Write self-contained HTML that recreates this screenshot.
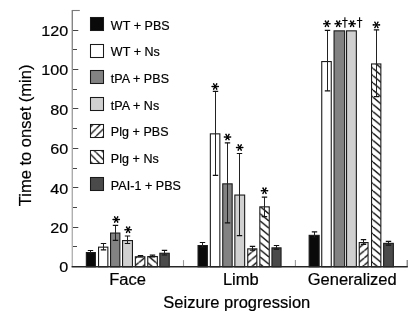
<!DOCTYPE html>
<html><head><meta charset="utf-8"><style>
html,body{margin:0;padding:0;background:#fff;}
svg{display:block;font-family:"Liberation Sans",sans-serif;will-change:transform;}
#w{width:415px;height:316px;}
</style></head><body>
<div id="w"><svg width="415" height="316" viewBox="0 0 415 316">
<rect width="415" height="316" fill="#fff"/>
<defs><pattern id="hf0" patternUnits="userSpaceOnUse" x="0.00" y="3.40" width="8.675" height="7.200"><rect width="8.675" height="7.200" fill="#fff"/><path d="M-8.67 7.20L0.00 0.00M0.00 7.20L8.67 0.00M8.67 7.20L17.35 0.00" stroke="#111" stroke-width="1.4"/></pattern><pattern id="hf1" patternUnits="userSpaceOnUse" x="0.00" y="0.30" width="8.675" height="7.200"><rect width="8.675" height="7.200" fill="#fff"/><path d="M-8.67 7.20L0.00 0.00M0.00 7.20L8.67 0.00M8.67 7.20L17.35 0.00" stroke="#111" stroke-width="1.4"/></pattern><pattern id="hf2" patternUnits="userSpaceOnUse" x="0.00" y="5.90" width="8.675" height="7.200"><rect width="8.675" height="7.200" fill="#fff"/><path d="M-8.67 7.20L0.00 0.00M0.00 7.20L8.67 0.00M8.67 7.20L17.35 0.00" stroke="#111" stroke-width="1.4"/></pattern><pattern id="hb0" patternUnits="userSpaceOnUse" x="0.00" y="3.40" width="8.675" height="7.200"><rect width="8.675" height="7.200" fill="#fff"/><path d="M-8.67 0.00L0.00 7.20M0.00 0.00L8.67 7.20M8.67 0.00L17.35 7.20" stroke="#111" stroke-width="1.4"/></pattern><pattern id="hb1" patternUnits="userSpaceOnUse" x="0.00" y="5.00" width="8.675" height="7.200"><rect width="8.675" height="7.200" fill="#fff"/><path d="M-8.67 0.00L0.00 7.20M0.00 0.00L8.67 7.20M8.67 0.00L17.35 7.20" stroke="#111" stroke-width="1.4"/></pattern><pattern id="hb2" patternUnits="userSpaceOnUse" x="0.00" y="3.70" width="8.675" height="7.200"><rect width="8.675" height="7.200" fill="#fff"/><path d="M-8.67 0.00L0.00 7.20M0.00 0.00L8.67 7.20M8.67 0.00L17.35 7.20" stroke="#111" stroke-width="1.4"/></pattern><pattern id="lf" patternUnits="userSpaceOnUse" x="0" y="2.9" width="7.4" height="7.4"><rect width="7.4" height="7.4" fill="#fff"/><path d="M-7.40 7.40L0.00 0.00M0.00 7.40L7.40 0.00M7.40 7.40L14.80 0.00" stroke="#111" stroke-width="1.3"/></pattern><pattern id="lb" patternUnits="userSpaceOnUse" x="0" y="4.5" width="7.4" height="7.4"><rect width="7.4" height="7.4" fill="#fff"/><path d="M-7.40 0.00L0.00 7.40M0.00 0.00L7.40 7.40M7.40 0.00L14.80 7.40" stroke="#111" stroke-width="1.3"/></pattern></defs>
<rect x="86.35" y="252.55" width="9.00" height="14.25" fill="#0a0a0a" stroke="#1a1a1a" stroke-width="1.1"/>
<rect x="98.55" y="247.15" width="9.30" height="19.65" fill="#ffffff" stroke="#1a1a1a" stroke-width="1.1"/>
<rect x="110.55" y="233.05" width="9.30" height="33.75" fill="#828282" stroke="#1a1a1a" stroke-width="1.1"/>
<rect x="122.55" y="240.55" width="9.90" height="26.25" fill="#d0d0d0" stroke="#1a1a1a" stroke-width="1.1"/>
<rect x="135.35" y="256.75" width="9.50" height="10.05" fill="url(#hf0)" stroke="#1a1a1a" stroke-width="1.1"/>
<rect x="147.75" y="256.55" width="9.60" height="10.25" fill="url(#hb0)" stroke="#1a1a1a" stroke-width="1.1"/>
<rect x="159.85" y="253.25" width="9.40" height="13.55" fill="#4a4a4a" stroke="#1a1a1a" stroke-width="1.1"/>
<rect x="198.05" y="245.55" width="9.30" height="21.25" fill="#0a0a0a" stroke="#1a1a1a" stroke-width="1.1"/>
<rect x="210.35" y="133.85" width="9.50" height="132.95" fill="#ffffff" stroke="#1a1a1a" stroke-width="1.1"/>
<rect x="222.75" y="183.85" width="9.40" height="82.95" fill="#828282" stroke="#1a1a1a" stroke-width="1.1"/>
<rect x="234.85" y="195.05" width="9.80" height="71.75" fill="#d0d0d0" stroke="#1a1a1a" stroke-width="1.1"/>
<rect x="247.75" y="248.85" width="9.10" height="17.95" fill="url(#hf1)" stroke="#1a1a1a" stroke-width="1.1"/>
<rect x="259.85" y="206.85" width="9.40" height="59.95" fill="url(#hb1)" stroke="#1a1a1a" stroke-width="1.1"/>
<rect x="271.95" y="247.85" width="9.10" height="18.95" fill="#4a4a4a" stroke="#1a1a1a" stroke-width="1.1"/>
<rect x="309.15" y="235.35" width="10.00" height="31.45" fill="#0a0a0a" stroke="#1a1a1a" stroke-width="1.1"/>
<rect x="321.75" y="61.55" width="9.50" height="205.25" fill="#ffffff" stroke="#1a1a1a" stroke-width="1.1"/>
<rect x="334.05" y="30.85" width="10.60" height="235.95" fill="#828282" stroke="#1a1a1a" stroke-width="1.1"/>
<rect x="346.55" y="30.85" width="9.80" height="235.95" fill="#d0d0d0" stroke="#1a1a1a" stroke-width="1.1"/>
<rect x="359.25" y="242.55" width="8.80" height="24.25" fill="url(#hf2)" stroke="#1a1a1a" stroke-width="1.1"/>
<rect x="371.55" y="63.95" width="9.30" height="202.85" fill="url(#hb2)" stroke="#1a1a1a" stroke-width="1.1"/>
<rect x="383.65" y="243.35" width="9.70" height="23.45" fill="#4a4a4a" stroke="#1a1a1a" stroke-width="1.1"/>
<path d="M90.50 250.50V253.50" stroke="#222" stroke-width="1.0" fill="none"/>
<path d="M87.80 250.50H93.20M87.80 253.50H93.20" stroke="#111" stroke-width="1.2" fill="none"/>
<path d="M103.50 243.50V249.90" stroke="#222" stroke-width="1.0" fill="none"/>
<path d="M100.80 243.50H106.20M100.80 249.90H106.20" stroke="#111" stroke-width="1.2" fill="none"/>
<path d="M115.50 225.40V240.40" stroke="#222" stroke-width="1.0" fill="none"/>
<path d="M112.80 225.40H118.20M112.80 240.40H118.20" stroke="#111" stroke-width="1.2" fill="none"/>
<path d="M127.50 236.00V243.50" stroke="#222" stroke-width="1.0" fill="none"/>
<path d="M124.80 236.00H130.20M124.80 243.50H130.20" stroke="#111" stroke-width="1.2" fill="none"/>
<path d="M140.50 255.50V257.00" stroke="#222" stroke-width="1.0" fill="none"/>
<path d="M137.80 255.50H143.20M137.80 257.00H143.20" stroke="#111" stroke-width="1.2" fill="none"/>
<path d="M152.50 255.10V257.00" stroke="#222" stroke-width="1.0" fill="none"/>
<path d="M149.80 255.10H155.20M149.80 257.00H155.20" stroke="#111" stroke-width="1.2" fill="none"/>
<path d="M164.50 250.40V255.00" stroke="#222" stroke-width="1.0" fill="none"/>
<path d="M161.80 250.40H167.20M161.80 255.00H167.20" stroke="#111" stroke-width="1.2" fill="none"/>
<path d="M202.50 242.50V247.50" stroke="#222" stroke-width="1.0" fill="none"/>
<path d="M199.80 242.50H205.20M199.80 247.50H205.20" stroke="#111" stroke-width="1.2" fill="none"/>
<path d="M215.50 91.40V175.40" stroke="#222" stroke-width="1.0" fill="none"/>
<path d="M212.80 91.40H218.20M212.80 175.40H218.20" stroke="#111" stroke-width="1.2" fill="none"/>
<path d="M227.50 142.80V222.90" stroke="#222" stroke-width="1.0" fill="none"/>
<path d="M224.80 142.80H230.20M224.80 222.90H230.20" stroke="#111" stroke-width="1.2" fill="none"/>
<path d="M239.50 153.50V235.60" stroke="#222" stroke-width="1.0" fill="none"/>
<path d="M236.80 153.50H242.20M236.80 235.60H242.20" stroke="#111" stroke-width="1.2" fill="none"/>
<path d="M252.50 246.40V250.20" stroke="#222" stroke-width="1.0" fill="none"/>
<path d="M249.80 246.40H255.20M249.80 250.20H255.20" stroke="#111" stroke-width="1.2" fill="none"/>
<path d="M264.50 197.10V216.60" stroke="#222" stroke-width="1.0" fill="none"/>
<path d="M261.80 197.10H267.20M261.80 216.60H267.20" stroke="#111" stroke-width="1.2" fill="none"/>
<path d="M276.50 245.50V249.10" stroke="#222" stroke-width="1.0" fill="none"/>
<path d="M273.80 245.50H279.20M273.80 249.10H279.20" stroke="#111" stroke-width="1.2" fill="none"/>
<path d="M314.50 231.90V237.70" stroke="#222" stroke-width="1.0" fill="none"/>
<path d="M311.80 231.90H317.20M311.80 237.70H317.20" stroke="#111" stroke-width="1.2" fill="none"/>
<path d="M327.50 30.30V90.80" stroke="#222" stroke-width="1.0" fill="none"/>
<path d="M324.80 30.30H330.20M324.80 90.80H330.20" stroke="#111" stroke-width="1.2" fill="none"/>
<path d="M363.50 239.70V244.30" stroke="#222" stroke-width="1.0" fill="none"/>
<path d="M360.80 239.70H366.20M360.80 244.30H366.20" stroke="#111" stroke-width="1.2" fill="none"/>
<path d="M376.50 29.80V96.60" stroke="#222" stroke-width="1.0" fill="none"/>
<path d="M373.80 29.80H379.20M373.80 96.60H379.20" stroke="#111" stroke-width="1.2" fill="none"/>
<path d="M388.50 241.30V245.20" stroke="#222" stroke-width="1.0" fill="none"/>
<path d="M385.80 241.30H391.20M385.80 245.20H391.20" stroke="#111" stroke-width="1.2" fill="none"/>
<path d="M116.20 219.90L119.30 220.30A0.8 0.8 0 0 0 119.30 218.70L116.20 219.10ZM115.85 219.70L117.06 222.58A0.8 0.8 0 0 0 118.44 221.78L116.55 219.30ZM115.85 219.30L113.96 221.78A0.8 0.8 0 0 0 115.34 222.58L116.55 219.70ZM116.20 219.10L113.10 218.70A0.8 0.8 0 0 0 113.10 220.30L116.20 219.90ZM116.55 219.30L115.34 216.42A0.8 0.8 0 0 0 113.96 217.22L115.85 219.70ZM116.55 219.70L118.44 217.22A0.8 0.8 0 0 0 117.06 216.42L115.85 219.30Z" fill="#000"/>
<path d="M128.10 230.10L131.20 230.50A0.8 0.8 0 0 0 131.20 228.90L128.10 229.30ZM127.75 229.90L128.96 232.78A0.8 0.8 0 0 0 130.34 231.98L128.45 229.50ZM127.75 229.50L125.86 231.98A0.8 0.8 0 0 0 127.24 232.78L128.45 229.90ZM128.10 229.30L125.00 228.90A0.8 0.8 0 0 0 125.00 230.50L128.10 230.10ZM128.45 229.50L127.24 226.62A0.8 0.8 0 0 0 125.86 227.42L127.75 229.90ZM128.45 229.90L130.34 227.42A0.8 0.8 0 0 0 128.96 226.62L127.75 229.50Z" fill="#000"/>
<path d="M215.20 86.90L218.30 87.30A0.8 0.8 0 0 0 218.30 85.70L215.20 86.10ZM214.85 86.70L216.06 89.58A0.8 0.8 0 0 0 217.44 88.78L215.55 86.30ZM214.85 86.30L212.96 88.78A0.8 0.8 0 0 0 214.34 89.58L215.55 86.70ZM215.20 86.10L212.10 85.70A0.8 0.8 0 0 0 212.10 87.30L215.20 86.90ZM215.55 86.30L214.34 83.42A0.8 0.8 0 0 0 212.96 84.22L214.85 86.70ZM215.55 86.70L217.44 84.22A0.8 0.8 0 0 0 216.06 83.42L214.85 86.30Z" fill="#000"/>
<path d="M227.50 137.40L230.60 137.80A0.8 0.8 0 0 0 230.60 136.20L227.50 136.60ZM227.15 137.20L228.36 140.08A0.8 0.8 0 0 0 229.74 139.28L227.85 136.80ZM227.15 136.80L225.26 139.28A0.8 0.8 0 0 0 226.64 140.08L227.85 137.20ZM227.50 136.60L224.40 136.20A0.8 0.8 0 0 0 224.40 137.80L227.50 137.40ZM227.85 136.80L226.64 133.92A0.8 0.8 0 0 0 225.26 134.72L227.15 137.20ZM227.85 137.20L229.74 134.72A0.8 0.8 0 0 0 228.36 133.92L227.15 136.80Z" fill="#000"/>
<path d="M239.70 147.90L242.80 148.30A0.8 0.8 0 0 0 242.80 146.70L239.70 147.10ZM239.35 147.70L240.56 150.58A0.8 0.8 0 0 0 241.94 149.78L240.05 147.30ZM239.35 147.30L237.46 149.78A0.8 0.8 0 0 0 238.84 150.58L240.05 147.70ZM239.70 147.10L236.60 146.70A0.8 0.8 0 0 0 236.60 148.30L239.70 147.90ZM240.05 147.30L238.84 144.42A0.8 0.8 0 0 0 237.46 145.22L239.35 147.70ZM240.05 147.70L241.94 145.22A0.8 0.8 0 0 0 240.56 144.42L239.35 147.30Z" fill="#000"/>
<path d="M264.50 191.10L267.60 191.50A0.8 0.8 0 0 0 267.60 189.90L264.50 190.30ZM264.15 190.90L265.36 193.78A0.8 0.8 0 0 0 266.74 192.98L264.85 190.50ZM264.15 190.50L262.26 192.98A0.8 0.8 0 0 0 263.64 193.78L264.85 190.90ZM264.50 190.30L261.40 189.90A0.8 0.8 0 0 0 261.40 191.50L264.50 191.10ZM264.85 190.50L263.64 187.62A0.8 0.8 0 0 0 262.26 188.42L264.15 190.90ZM264.85 190.90L266.74 188.42A0.8 0.8 0 0 0 265.36 187.62L264.15 190.50Z" fill="#000"/>
<path d="M326.90 24.10L330.00 24.50A0.8 0.8 0 0 0 330.00 22.90L326.90 23.30ZM326.55 23.90L327.76 26.78A0.8 0.8 0 0 0 329.14 25.98L327.25 23.50ZM326.55 23.50L324.66 25.98A0.8 0.8 0 0 0 326.04 26.78L327.25 23.90ZM326.90 23.30L323.80 22.90A0.8 0.8 0 0 0 323.80 24.50L326.90 24.10ZM327.25 23.50L326.04 20.62A0.8 0.8 0 0 0 324.66 21.42L326.55 23.90ZM327.25 23.90L329.14 21.42A0.8 0.8 0 0 0 327.76 20.62L326.55 23.50Z" fill="#000"/>
<path d="M338.20 24.10L341.30 24.50A0.8 0.8 0 0 0 341.30 22.90L338.20 23.30ZM337.85 23.90L339.06 26.78A0.8 0.8 0 0 0 340.44 25.98L338.55 23.50ZM337.85 23.50L335.96 25.98A0.8 0.8 0 0 0 337.34 26.78L338.55 23.90ZM338.20 23.30L335.10 22.90A0.8 0.8 0 0 0 335.10 24.50L338.20 24.10ZM338.55 23.50L337.34 20.62A0.8 0.8 0 0 0 335.96 21.42L337.85 23.90ZM338.55 23.90L340.44 21.42A0.8 0.8 0 0 0 339.06 20.62L337.85 23.50Z" fill="#000"/>
<path d="M352.10 24.10L355.20 24.50A0.8 0.8 0 0 0 355.20 22.90L352.10 23.30ZM351.75 23.90L352.96 26.78A0.8 0.8 0 0 0 354.34 25.98L352.45 23.50ZM351.75 23.50L349.86 25.98A0.8 0.8 0 0 0 351.24 26.78L352.45 23.90ZM352.10 23.30L349.00 22.90A0.8 0.8 0 0 0 349.00 24.50L352.10 24.10ZM352.45 23.50L351.24 20.62A0.8 0.8 0 0 0 349.86 21.42L351.75 23.90ZM352.45 23.90L354.34 21.42A0.8 0.8 0 0 0 352.96 20.62L351.75 23.50Z" fill="#000"/>
<path d="M376.40 25.30L379.50 25.70A0.8 0.8 0 0 0 379.50 24.10L376.40 24.50ZM376.05 25.10L377.26 27.98A0.8 0.8 0 0 0 378.64 27.18L376.75 24.70ZM376.05 24.70L374.16 27.18A0.8 0.8 0 0 0 375.54 27.98L376.75 25.10ZM376.40 24.50L373.30 24.10A0.8 0.8 0 0 0 373.30 25.70L376.40 25.30ZM376.75 24.70L375.54 21.82A0.8 0.8 0 0 0 374.16 22.62L376.05 25.10ZM376.75 25.10L378.64 22.62A0.8 0.8 0 0 0 377.26 21.82L376.05 24.70Z" fill="#000"/>
<path d="M344.90 17.2V27.7M342.20 20.5H347.60" stroke="#000" stroke-width="1.1" fill="none"/>
<path d="M359.60 17.2V27.7M356.90 20.5H362.30" stroke="#000" stroke-width="1.1" fill="none"/>
<linearGradient id="ag" x1="0" y1="0" x2="0" y2="1"><stop offset="0" stop-color="#808080"/><stop offset="0.5" stop-color="#a8a8a8"/><stop offset="1" stop-color="#b4b4b4"/></linearGradient>
<rect x="71.6" y="10" width="1.4" height="256.80" fill="url(#ag)"/>
<path d="M72 10.5H79.8" stroke="#7a7a7a" stroke-width="1.1" fill="none"/>
<path d="M73 266.50H78.30" stroke="#444" stroke-width="1.0" fill="none"/>
<path d="M73 246.50H77.00" stroke="#444" stroke-width="1.0" fill="none"/>
<path d="M73 227.50H78.30" stroke="#444" stroke-width="1.0" fill="none"/>
<path d="M73 207.50H77.00" stroke="#444" stroke-width="1.0" fill="none"/>
<path d="M73 187.50H78.30" stroke="#444" stroke-width="1.0" fill="none"/>
<path d="M73 168.50H77.00" stroke="#444" stroke-width="1.0" fill="none"/>
<path d="M73 148.50H78.30" stroke="#444" stroke-width="1.0" fill="none"/>
<path d="M73 128.50H77.00" stroke="#444" stroke-width="1.0" fill="none"/>
<path d="M73 108.50H78.30" stroke="#444" stroke-width="1.0" fill="none"/>
<path d="M73 89.50H77.00" stroke="#444" stroke-width="1.0" fill="none"/>
<path d="M73 69.50H78.30" stroke="#444" stroke-width="1.0" fill="none"/>
<path d="M73 49.50H77.00" stroke="#444" stroke-width="1.0" fill="none"/>
<path d="M73 30.50H78.30" stroke="#444" stroke-width="1.0" fill="none"/>
<path d="M183.5 266.8V260.1" stroke="#9a9a9a" stroke-width="1.1" fill="none"/>
<path d="M295.4 266.8V260.1" stroke="#9a9a9a" stroke-width="1.1" fill="none"/>
<path d="M407.2 266.8V260.1" stroke="#6a6a6a" stroke-width="1.1" fill="none"/>
<path d="M71.6 266.8H407.8" stroke="#262626" stroke-width="1.4" fill="none"/>
<text transform="translate(68.20 36.00) scale(1.05 1)" text-anchor="end" font-size="15.4" stroke="#000" stroke-width="0.2" >120</text>
<text transform="translate(68.20 75.00) scale(1.05 1)" text-anchor="end" font-size="15.4" stroke="#000" stroke-width="0.2" >100</text>
<text transform="translate(68.20 115.00) scale(1.05 1)" text-anchor="end" font-size="15.4" stroke="#000" stroke-width="0.2" >80</text>
<text transform="translate(68.20 154.00) scale(1.05 1)" text-anchor="end" font-size="15.4" stroke="#000" stroke-width="0.2" >60</text>
<text transform="translate(68.20 194.00) scale(1.05 1)" text-anchor="end" font-size="15.4" stroke="#000" stroke-width="0.2" >40</text>
<text transform="translate(68.20 233.00) scale(1.05 1)" text-anchor="end" font-size="15.4" stroke="#000" stroke-width="0.2" >20</text>
<text transform="translate(68.20 272.00) scale(1.05 1)" text-anchor="end" font-size="15.4" stroke="#000" stroke-width="0.2" >0</text>
<text transform="translate(127.60 285.00) scale(1.06 1)" text-anchor="middle" font-size="15.6" stroke="#000" stroke-width="0.2" >Face</text>
<text transform="translate(240.80 285.00) scale(1.06 1)" text-anchor="middle" font-size="15.6" stroke="#000" stroke-width="0.2" >Limb</text>
<text transform="translate(352.20 285.00) scale(1.06 1)" text-anchor="middle" font-size="15.6" stroke="#000" stroke-width="0.2" >Generalized</text>
<text transform="translate(236.80 308.00) scale(1.06 1)" text-anchor="middle" font-size="15.6" stroke="#000" stroke-width="0.2" >Seizure progression</text>
<text transform="translate(31.20 135.40) rotate(-90) scale(1.06 1)" text-anchor="middle" font-size="15.6" stroke="#000" stroke-width="0.2" >Time to onset (min)</text>
<rect x="90.5" y="17.50" width="13" height="13" fill="#0a0a0a" stroke="#1a1a1a" stroke-width="1.05"/>
<text x="110.8" y="29.60" font-size="12.5" letter-spacing="0.05" stroke="#000" stroke-width="0.2">WT + PBS</text>
<rect x="90.5" y="44.50" width="13" height="13" fill="#ffffff" stroke="#1a1a1a" stroke-width="1.05"/>
<text x="110.8" y="56.27" font-size="12.5" letter-spacing="0.05" stroke="#000" stroke-width="0.2">WT + Ns</text>
<rect x="90.5" y="70.50" width="13" height="13" fill="#828282" stroke="#1a1a1a" stroke-width="1.05"/>
<text x="110.8" y="82.94" font-size="12.5" letter-spacing="0.05" stroke="#000" stroke-width="0.2">tPA + PBS</text>
<rect x="90.5" y="97.50" width="13" height="13" fill="#d0d0d0" stroke="#1a1a1a" stroke-width="1.05"/>
<text x="110.8" y="109.61" font-size="12.5" letter-spacing="0.05" stroke="#000" stroke-width="0.2">tPA + Ns</text>
<rect x="90.5" y="124.50" width="13" height="13" fill="url(#lf)" stroke="#1a1a1a" stroke-width="1.05"/>
<text x="110.8" y="136.28" font-size="12.5" letter-spacing="0.05" stroke="#000" stroke-width="0.2">Plg + PBS</text>
<rect x="90.5" y="150.50" width="13" height="13" fill="url(#lb)" stroke="#1a1a1a" stroke-width="1.05"/>
<text x="110.8" y="162.95" font-size="12.5" letter-spacing="0.05" stroke="#000" stroke-width="0.2">Plg + Ns</text>
<rect x="90.5" y="177.50" width="13" height="13" fill="#4a4a4a" stroke="#1a1a1a" stroke-width="1.05"/>
<text x="110.8" y="189.62" font-size="12.5" letter-spacing="0.05" stroke="#000" stroke-width="0.2">PAI-1 + PBS</text>
</svg></div></body></html>
